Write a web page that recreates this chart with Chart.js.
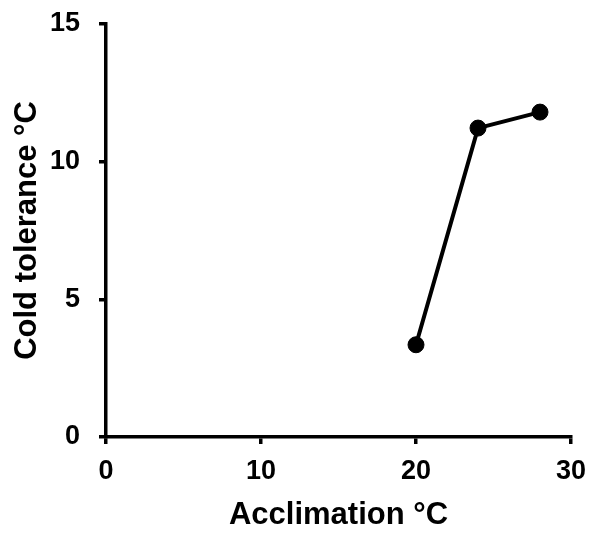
<!DOCTYPE html>
<html>
<head>
<meta charset="utf-8">
<script src="https://cdn.jsdelivr.net/npm/chart.js@4"></script>
<style>
  html, body { margin: 0; padding: 0; background: #fff; }
  #wrap { width: 596px; height: 534px; }
</style>
</head>
<body>
<div id="wrap"><canvas id="chart" width="596" height="534"></canvas></div>
<script>
// data
const acclimation = [20, 24, 28];
const coldTolerance = [3.35, 11.22, 11.8];
const xTicks = [0, 10, 20, 30];
const yTicks = [0, 5, 10, 15];

const points = acclimation.map((x, i) => ({ x: x, y: coldTolerance[i] }));

const font = 'Liberation Sans, Arial, sans-serif';

// axis look shared by both scales
function axisStyle(ticks, titleText, tickPad, titlePad) {
    return {
        type: 'linear',
        min: ticks[0],
        max: ticks[ticks.length - 1],
        afterBuildTicks: axis => { axis.ticks = ticks.map(v => ({ value: v })); },
        grid: {
            display: true,
            drawOnChartArea: false,
            drawTicks: true,
            tickLength: 7,
            tickColor: '#000',
            lineWidth: 3.5
        },
        border: { display: true, color: '#000', width: 3.5 },
        ticks: {
            color: '#000',
            font: { family: font, size: 27, weight: 'bold' },
            padding: tickPad
        },
        title: {
            display: true,
            text: titleText,
            color: '#000',
            font: { family: font, size: 31, weight: 'bold' },
            padding: titlePad
        }
    };
}

// fixed axis sizes so the plot box lands where the original has it
const xScale = axisStyle(xTicks, 'Acclimation °C', 11, { top: 0, bottom: 0 });
xScale.afterFit = s => { s.height = 97; s.paddingLeft = 0; s.paddingRight = 0; };
const yScale = axisStyle(yTicks, 'Cold tolerance °C', 19, { top: 9, bottom: 0 });
yScale.afterFit = s => { s.width = 106; s.paddingTop = 0; s.paddingBottom = 0; };

new Chart(document.getElementById('chart'), {
    type: 'scatter',
    data: {
        datasets: [{
            data: points,
            showLine: true,
            borderColor: '#000',
            borderWidth: 4,
            backgroundColor: '#000',
            pointRadius: 8,
            pointBorderWidth: 1,
            pointBorderColor: '#000'
        }]
    },
    options: {
        responsive: false,
        animation: false,
        layout: { padding: { top: 24, right: 25, left: 0, bottom: 0 } },
        plugins: { legend: { display: false }, tooltip: { enabled: false } },
        scales: { x: xScale, y: yScale }
    }
});
</script>
</body>
</html>
